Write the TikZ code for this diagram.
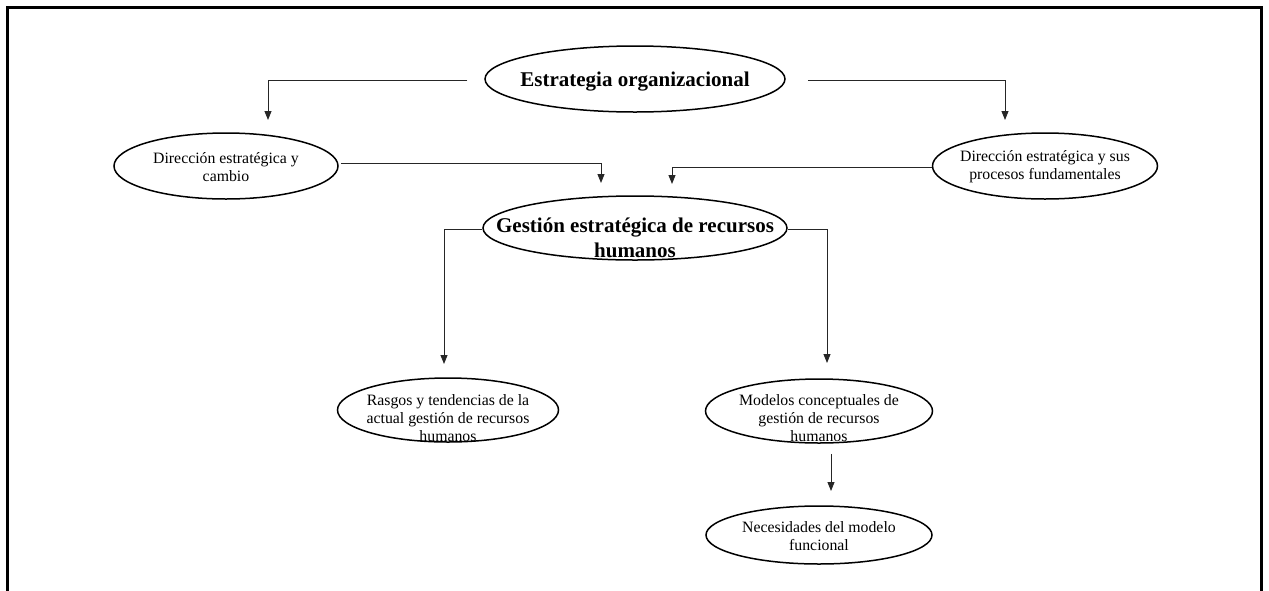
\documentclass[tikz,border=0pt]{standalone}
\usepackage{fontspec}
\setmainfont{Liberation Serif}
\usetikzlibrary{arrows.meta,shapes.geometric}
\begin{document}
\begin{tikzpicture}[x=1pt,y=-1pt,
  oval/.style={draw=black,line width=1.5pt,ellipse,inner sep=0pt},
  small/.style={align=center,font=\fontsize{15.8}{18.2}\selectfont,inner sep=0pt},
  big/.style={align=center,font=\fontsize{21}{24.5}\selectfont\bfseries,inner sep=0pt},
  arr/.style={draw=black!85,line width=0.9pt,-{Triangle[width=7pt,length=9pt]}},
  frame/.style={draw=black,line width=2.2pt}]
\useasboundingbox (0,0) rectangle (1269,590);
\draw[frame] (7.5,620) -- (7.5,7.5) -- (1261.5,7.5) -- (1261.5,620);

% ellipses
\node[oval,minimum width=300pt,minimum height=66pt] (estr) at (635,79) {};
\node[oval,minimum width=224pt,minimum height=66pt] (dir1) at (226,166) {};
\node[oval,minimum width=225pt,minimum height=66pt] (dir2) at (1045,166) {};
\node[oval,minimum width=304pt,minimum height=64pt] (gest) at (635,228) {};
\node[oval,minimum width=221pt,minimum height=64pt] (rasg) at (448,410) {};
\node[oval,minimum width=227pt,minimum height=64pt] (mode) at (819,411) {};
\node[oval,minimum width=226pt,minimum height=58pt] (nece) at (819,535) {};

% texts
\node[big] (estr-t) at ([yshift=-3pt]estr.center) {Estrategia organizacional};
\node[small] (dir1-t) at ([yshift=-1pt]dir1.center) {Dirección estratégica y\\cambio};
\node[small] (dir2-t) at ([yshift=-1pt]dir2.center) {Dirección estratégica y sus\\procesos fundamentales};
\node[big] (gest-t) at ([yshift=-10pt]gest.center) {Gestión estratégica de recursos\\humanos};
\node[small] (rasg-t) at ([yshift=-8pt]rasg.center) {Rasgos y tendencias de la\\actual gestión de recursos\\humanos};
\node[small] (mode-t) at ([yshift=-7pt]mode.center) {Modelos conceptuales de\\gestión de recursos\\humanos};
\node[small] (nece-t) at ([yshift=-1pt]nece.center) {Necesidades del modelo\\funcional};

% connector end points
\coordinate (e1) at (268,120);
\coordinate (e2) at (1005,120);
\coordinate (e3) at (601,183);
\coordinate (e4) at (672,184);
\coordinate (e5) at (444,364);
\coordinate (e6) at (827,363);
\coordinate (e7) at (831,491);

\draw[arr] ([xshift=-17pt,yshift=-1pt]estr.west) -| (e1);
\draw[arr] ([xshift=22pt,yshift=-1pt]estr.east) -| (e2);
\draw[arr] ([xshift=2pt,yshift=3pt]dir1.east) -| (e3);
\draw[arr] ([yshift=-1pt]dir2.west) -| (e4);
\draw[arr] ([yshift=-1pt]gest.west) -| (e5);
\draw[arr] ([yshift=-1pt]gest.east) -| (e6);
\draw[arr] ([xshift=12pt,yshift=-10pt]mode.south) -- (e7);
\end{tikzpicture}
\end{document}
